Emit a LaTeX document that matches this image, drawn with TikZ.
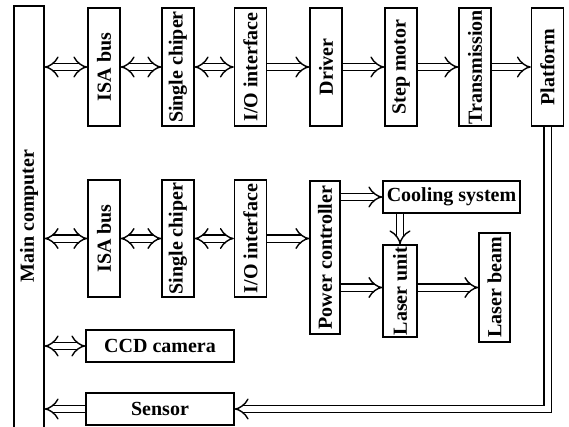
\documentclass[tikz,border=0pt]{standalone}
\usepackage{fontspec}
\setmainfont{Liberation Serif}
\usetikzlibrary{arrows.meta}

\begin{document}
\begin{tikzpicture}[
	x=1pt, y=-1pt,
	font=\bfseries\fontsize{20}{20}\selectfont,
	vbox/.style={
		draw,
		line width=1.3pt,
		inner sep=0pt,
		minimum width=32pt,
		minimum height=118pt,
	},
	hbox/.style={
		draw,
		line width=1.3pt,
		inner sep=0pt,
		minimum width=148pt,
		minimum height=32pt,
	},
	link/.style={double, double distance=6pt, line width=1.4pt, -{Implies}},
	dlink/.style={link, {Implies}-{Implies}},
]
\useasboundingbox (0,0) rectangle (569,426);
\clip (0,0) rectangle (569,426);

% --- Main computer ---
\node[draw, line width=1.3pt, minimum width=30pt, minimum height=434pt] (main) at (29,223) {};
\node (mainlbl) at (29,216) {\rotatebox{90}{Main computer}};

% --- Motion row ---
\node[vbox] (isa1)  at (104,67)   {\rotatebox{90}{ISA bus}};
\node[vbox] (sc1)   at (178,67)   {\rotatebox{90}{Single chiper}};
\node[vbox] (io1)   at (250.5,67) {\rotatebox{90}{I/O interface}};
\node[vbox] (drv)   at (326,67)   {\rotatebox{90}{Driver}};
\node[vbox] (step)  at (401,67)   {\rotatebox{90}{Step motor}};
\node[vbox] (trans) at (475,67)   {\rotatebox{90}{Transmission}};
\node[vbox] (plat)  at (547.5,67) {\rotatebox{90}{Platform}};

% --- Laser row ---
\node[vbox, minimum height=117pt] (isa2) at (104,238.5)   {\rotatebox{90}{ISA bus}};
\node[vbox, minimum height=117pt] (sc2)  at (178,238.5)   {\rotatebox{90}{Single chiper}};
\node[vbox, minimum height=117pt] (io2)  at (250.5,238.5) {\rotatebox{90}{I/O interface}};
\node[vbox, minimum width=30pt, minimum height=153pt] (pc) at (325,257.5) {\rotatebox{90}{Power controller}};
\node[hbox, minimum width=137pt] (cool) at (451.5,197) {Cooling system};
\node[vbox, minimum width=34pt, minimum height=92pt] (lu) at (400,291) {\rotatebox{90}{Laser unit}};
\node[vbox, minimum width=31pt, minimum height=109pt] (lb) at (494.5,287.5) {\rotatebox{90}{Laser beam}};

% --- Camera and sensor ---
\node[hbox] (ccd)  at (160,346) {CCD camera};
\node[hbox] (sens) at (160,409) {Sensor};

% --- Links ---
\draw[dlink] (main.east |- isa1.west) -- (isa1.west);
\draw[dlink] (isa1) -- (sc1);
\draw[dlink] (sc1) -- (io1);
\draw[link] (io1) -- (drv);
\draw[link] (drv) -- (step);
\draw[link] (step) -- (trans);
\draw[link] (trans) -- (plat);

\draw[dlink] (main.east |- isa2.west) -- (isa2.west);
\draw[dlink] (isa2) -- (sc2);
\draw[dlink] (sc2) -- (io2);
\draw[link] (io2.east) -- (io2.east -| pc.west);
\draw[link] (pc.east |- cool.west) -- (cool.west);
\draw[link] (cool.south -| lu.north) -- (lu.north);
\draw[link] (pc.east |- lb.west) -- (lu.west |- lb.west);
\draw[link] (lu.east |- lb.west) -- (lb.west);

\draw[dlink] (main.east |- ccd.west) -- (ccd.west);
\draw[link] (sens.west) -- (main.east |- sens.west);
\draw[link] (plat.south) |- (sens.east);

\end{tikzpicture}
\end{document}
